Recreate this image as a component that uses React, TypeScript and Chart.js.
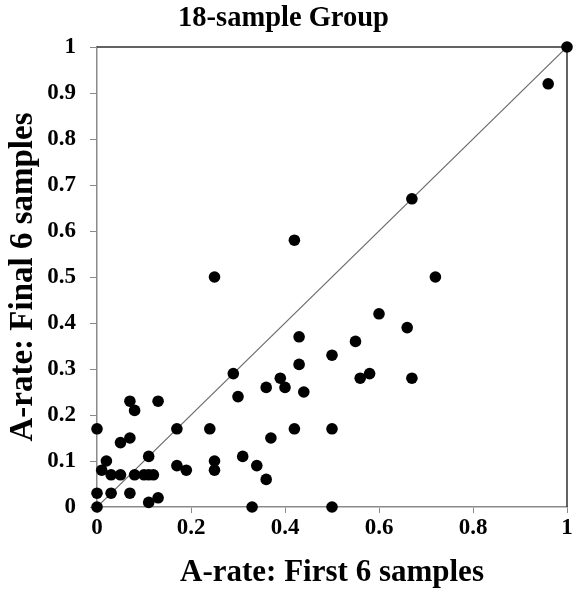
import React, { useEffect, useRef } from "react";
import { Chart, registerables } from "chart.js";

Chart.register(...registerables);

const chartTitle = "18-sample Group";
const xAxisTitle = "A-rate: First 6 samples";
const yAxisTitle = "A-rate: Final 6 samples";

// A-rate in first 6 samples (x) and final 6 samples (y)
const firstRates = [
  0, 0, 0, 0.01, 0.02, 0.03, 0.03, 0.05, 0.05, 0.07,
  0.07, 0.08, 0.07, 0.08, 0.10, 0.11, 0.12, 0.11, 0.11, 0.13,
  0.13, 0.17, 0.17, 0.19, 0.24, 0.25, 0.25, 0.25, 0.29, 0.30,
  0.31, 0.33, 0.34, 0.36, 0.36, 0.37, 0.39, 0.40, 0.42, 0.42,
  0.43, 0.43, 0.44, 0.50, 0.50, 0.50, 0.55, 0.56, 0.58, 0.60,
  0.66, 0.67, 0.67, 0.72, 0.96, 1,
];
const finalRates = [
  0, 0.03, 0.17, 0.08, 0.10, 0.07, 0.03, 0.07, 0.14, 0.15,
  0.23, 0.21, 0.03, 0.07, 0.07, 0.07, 0.07, 0.11, 0.01, 0.02,
  0.23, 0.17, 0.09, 0.08, 0.17, 0.10, 0.08, 0.50, 0.29, 0.24,
  0.11, 0, 0.09, 0.06, 0.26, 0.15, 0.28, 0.26, 0.17, 0.58,
  0.37, 0.31, 0.25, 0.33, 0.17, 0, 0.36, 0.28, 0.29, 0.42,
  0.39, 0.28, 0.67, 0.50, 0.92, 1,
];

// identity reference line
const diagonalX = [0, 1];
const diagonalY = [0, 1];

const xTicks = [0, 0.2, 0.4, 0.6, 0.8, 1];
const yTicks = [0, 0.1, 0.2, 0.3, 0.4, 0.5, 0.6, 0.7, 0.8, 0.9, 1];

const FONT = "'Liberation Serif', 'Times New Roman', serif";

const frameBorder = {
  id: "frameBorder",
  beforeDatasetsDraw(chart: any) {
    const { ctx, chartArea } = chart;
    ctx.save();
    ctx.strokeStyle = "#303030";
    ctx.lineWidth = 1.5;
    ctx.beginPath();
    ctx.moveTo(chartArea.left, chartArea.top);
    ctx.lineTo(chartArea.right, chartArea.top);
    ctx.lineTo(chartArea.right, chartArea.bottom);
    ctx.stroke();
    ctx.restore();
  },
};

export default function App() {
  const ref = useRef<HTMLCanvasElement>(null);

  useEffect(() => {
    if (!ref.current) return;
    const points = firstRates.map((x, i) => ({ x, y: finalRates[i] }));
    const diag = diagonalX.map((x, i) => ({ x, y: diagonalY[i] }));
    const chart = new Chart(ref.current, {
      type: "scatter",
      data: {
        datasets: [
          {
            type: "line",
            data: diag,
            borderColor: "#6a6a6a",
            borderWidth: 1.2,
            pointRadius: 0,
            showLine: true,
            fill: false,
            order: 2,
          } as any,
          {
            data: points,
            backgroundColor: "#000000",
            borderColor: "#000000",
            borderWidth: 0,
            pointRadius: 5.8,
            clip: false,
            order: 1,
          } as any,
        ],
      },
      options: {
        animation: false,
        responsive: false,
        layout: { padding: { left: 0, right: 10, top: 0, bottom: 0 } },
        plugins: {
          legend: { display: false },
          tooltip: { enabled: false },
          title: {
            display: true,
            text: chartTitle,
            color: "#000",
            font: { family: FONT, size: 28.5, weight: "bold", lineHeight: 1.2 },
            padding: { top: 2, bottom: 10.8 },
          },
        },
        scales: {
          x: {
            type: "linear",
            min: 0,
            max: 1,
            afterFit: (s: any) => {
              s.height = 88;
            },
            afterBuildTicks: (s: any) => {
              s.ticks = xTicks.map((v) => ({ value: v }));
            },
            ticks: {
              color: "#000",
              font: { family: FONT, size: 23, weight: "bold" },
              padding: 1,
              maxRotation: 0,
              callback: (v: any) => String(Number(v)),
            },
            grid: {
              display: true,
              drawOnChartArea: false,
              drawTicks: true,
              tickLength: 6,
              color: "#8a8a8a",
            },
            border: { display: true, color: "#8a8a8a", width: 1.5 },
            title: {
              display: true,
              text: xAxisTitle,
              color: "#000",
              font: { family: FONT, size: 31, weight: "bold", lineHeight: 1.2 },
              padding: { top: 0, bottom: 3 },
            },
          },
          y: {
            type: "linear",
            min: 0,
            max: 1,
            afterFit: (s: any) => {
              s.width = 97;
            },
            afterBuildTicks: (s: any) => {
              s.ticks = yTicks.map((v) => ({ value: v }));
            },
            ticks: {
              color: "#000",
              font: { family: FONT, size: 23, weight: "bold" },
              padding: 14,
              callback: (v: any) => String(Number(v)),
            },
            grid: {
              display: true,
              drawOnChartArea: false,
              drawTicks: true,
              tickLength: 7,
              color: "#8a8a8a",
            },
            border: { display: true, color: "#8a8a8a", width: 1.5 },
            title: {
              display: true,
              text: yAxisTitle,
              color: "#000",
              font: { family: FONT, size: 33, weight: "bold", lineHeight: 1.2 },
              padding: { top: 4, bottom: 0 },
            },
          },
        },
      },
      plugins: [frameBorder],
    });
    return () => chart.destroy();
  }, []);

  return (
    <div style={{ position: "fixed", left: 0, top: 0, width: 577, height: 595, background: "#fff" }}>
      <canvas ref={ref} width={577} height={595} style={{ width: 577, height: 595, display: "block" }} />
    </div>
  );
}
